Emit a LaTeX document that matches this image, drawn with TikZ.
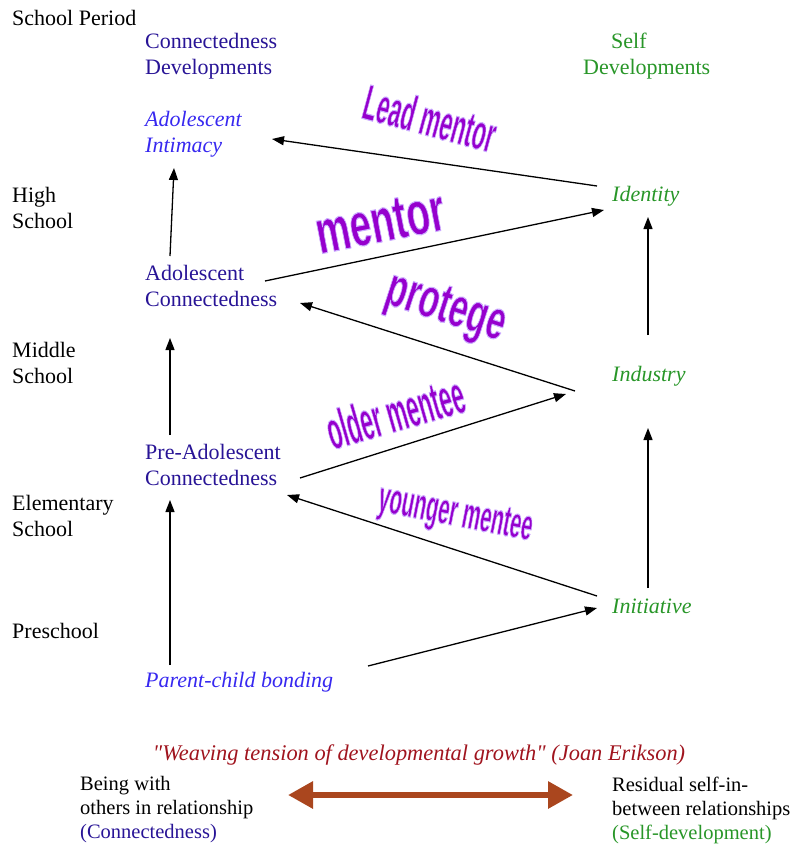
\documentclass[tikz,border=0pt]{standalone}
\usepackage{fontspec}
\setmainfont{Liberation Serif}
\setsansfont{Liberation Sans}
\usepackage{tikz}
\usetikzlibrary{arrows.meta, positioning, calc}
\definecolor{conncol}{RGB}{40,20,150}
\definecolor{intimcol}{RGB}{55,40,240}
\definecolor{selfcol}{RGB}{40,150,40}
\definecolor{quotecol}{RGB}{160,20,30}
\definecolor{tensecol}{RGB}{170,70,30}
\definecolor{rolecol}{RGB}{150,0,205}
% lavender rim round the role labels (fill + stroke text mode)
\newcommand{\halo}[1]{\special{pdf:code 2 Tr 1.1 w 0.8 0.68 1 RG}#1\special{pdf:code 0 Tr 0.3985 w}}

\begin{document}
\begin{tikzpicture}[
    x=1pt, y=-1pt,
    stage/.style={font=\fontsize{22}{26}\selectfont, align=left, anchor=west, inner sep=0pt},
    conn/.style={stage, text=conncol},
    connit/.style={stage, text=intimcol, font=\fontsize{22}{26}\selectfont\itshape},
    selfit/.style={stage, text=selfcol, font=\fontsize{22}{26}\selectfont\itshape},
    bottomtext/.style={font=\fontsize{20.5}{24}\selectfont, align=left, anchor=west, inner sep=0pt},
    arr/.style={-{Triangle[length=12pt,width=9pt]}, line width=1.3pt},
    weavearrow/.style={{Triangle[length=25pt,width=26pt]}-{Triangle[length=25pt,width=26pt]}, line width=6pt, tensecol},
    role/.style={text=rolecol, inner sep=0pt, transform shape}
]
    \useasboundingbox (0,0) rectangle (805,848);

    % School periods - left column
    \node[stage] (period) at (12,18) {School Period};
    \node[stage] (high) at (12,208) {High\\School};
    \node[stage] (middle) at (12,363) {Middle\\School};
    \node[stage] (elem) at (12,516) {Elementary\\School};
    \node[stage] (presch) at (12,631) {Preschool};

    % Connectedness developments
    \node[conn] (conndev) at (145,56) {Connectedness\\Developments};
    \node[connit] (intim) at (145,134) {Adolescent\\Intimacy};
    \node[conn] (adolconn) at (145,286) {Adolescent\\Connectedness};
    \node[conn] (preconn) at (145,465) {Pre-Adolescent\\Connectedness};
    \node[connit] (pcb) at (145,682) {Parent-child bonding};

    % Self developments
    \node[stage, text=selfcol] (selfdev) at (583,56) {\hspace*{28pt}Self\\Developments};
    \node[selfit] (ident) at (612,196) {Identity};
    \node[selfit] (indus) at (612,376) {Industry};
    \node[selfit] (init) at (612,606) {Initiative};

    % Connectedness column arrows
    \draw[arr] ($(pcb.west)+(25,-17)$) -- ($(preconn.west)+(25,35)$);
    \draw[arr] ($(preconn.west)+(25,-30)$) -- ($(adolconn.west)+(25,52)$);
    \draw[arr] ($(adolconn.west)+(25,-30)$) -- ($(intim.west)+(29,34)$);

    % Self column arrows
    \draw[arr] ($(init.west)+(36,-18)$) -- ($(indus.west)+(36,52)$);
    \draw[arr] ($(indus.west)+(36,-41)$) -- ($(ident.west)+(36,21)$);

    % Weaving arrows
    \draw[arr] ($(pcb.west)+(223,-16)$) -- ($(init.west)+(-15,2)$);
    \draw[arr] ($(init.west)+(-15,-10)$) -- ($(preconn.west)+(142,30)$);
    \draw[arr] ($(preconn.west)+(155,13)$) -- ($(indus.west)+(-46,18)$);
    \draw[arr] ($(indus.west)+(-37,15)$) -- ($(adolconn.west)+(155,17)$);
    \draw[arr] ($(adolconn.west)+(120,-5)$) -- ($(ident.west)+(-8,14)$);
    \draw[arr] ($(ident.west)+(-15,-10)$) -- ($(intim.west)+(127,5)$);

    % Mentoring roles
    \node[role, font=\fontsize{50}{50}\sffamily\bfseries, rotate=-15, xscale=0.45] (lead) at (430,118) {\halo{Lead mentor}};
    \node[role, font=\fontsize{62}{62}\sffamily\bfseries, rotate=11, xscale=0.62] (mentor) at (380,222) {\halo{mentor}};
    \node[role, font=\fontsize{56}{56}\sffamily\bfseries, rotate=-18, xscale=0.6] (protege) at (445,310) {\halo{protege}};
    \node[role, font=\fontsize{54}{54}\sffamily\bfseries, rotate=16, xscale=0.42] (older) at (395,412) {\halo{older mentee}};
    \node[role, font=\fontsize{44}{44}\sffamily\bfseries, rotate=-11, xscale=0.46] (younger) at (455,516) {\halo{younger mentee}};

    % Weaving tension
    \node[font=\fontsize{22.4}{26}\selectfont\itshape, text=quotecol, inner sep=0pt] (quote) at (419,755) {\textquotedbl Weaving tension of developmental growth\textquotedbl{} (Joan Erikson)};
    \node[bottomtext] (being) at (80,810) {Being with\\others in relationship\\\textcolor{conncol}{(Connectedness)}};
    \node[bottomtext] (residual) at (612,810) {Residual self-in-\\between relationships\\\textcolor{selfcol}{(Self-development)}};
    \draw[weavearrow] ($(being.west)+(208,-15)$) -- ($(residual.west)+(-39,-15)$);
\end{tikzpicture}
\end{document}
